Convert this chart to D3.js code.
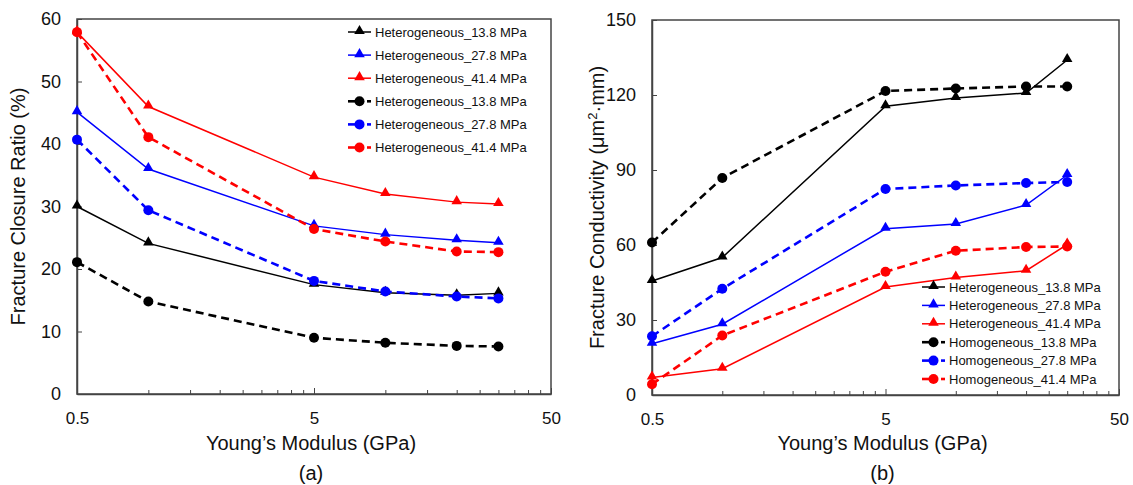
<!DOCTYPE html>
<html><head><meta charset="utf-8">
<script src="https://cdn.jsdelivr.net/npm/d3@7"></script>
<style>body{margin:0;background:#fff}svg{display:block;font-family:"Liberation Sans",Arial,Helvetica,sans-serif}</style>
</head><body><svg id="c" width="1133" height="485"></svg>
<script>
const modulus = [0.5, 1, 5, 10, 20, 30];
const xTickLabels = [0.5, 5, 50];
const xMinorTicks = [1, 1.5, 2, 2.5, 3, 3.5, 4, 4.5, 10, 15, 20, 25, 30, 35, 40, 45];

// Panel (a) Fracture closure ratio (%)
const closureHet138 = [30.0, 24.1, 17.5, 16.2, 15.8, 16.1];
const closureHet278 = [45.1, 36.0, 26.9, 25.5, 24.6, 24.2];
const closureHet414 = [57.9, 46.0, 34.7, 32.0, 30.7, 30.4];
const closureHom138 = [21.1, 14.8, 9.0, 8.2, 7.7, 7.6];
const closureHom278 = [40.7, 29.4, 18.1, 16.4, 15.6, 15.3];
const closureHom414 = [57.9, 41.1, 26.4, 24.4, 22.8, 22.7];
const closureTicks = [0, 10, 20, 30, 40, 50, 60];
const closureLegend = ["Heterogeneous_13.8 MPa","Heterogeneous_27.8 MPa","Heterogeneous_41.4 MPa","Heterogeneous_13.8 MPa","Heterogeneous_27.8 MPa","Heterogeneous_41.4 MPa"];

// Panel (b) Fracture conductivity
const condHet138 = [45.6, 55.0, 115.5, 118.8, 120.8, 134.0];
const condHet278 = [20.5, 28.3, 66.5, 68.4, 76.0, 88.0];
const condHet414 = [7.0, 10.5, 43.2, 47.0, 49.7, 60.2];
const condHom138 = [61.0, 86.8, 121.6, 122.6, 123.4, 123.4];
const condHom278 = [23.5, 42.5, 82.4, 83.8, 84.8, 85.2];
const condHom414 = [4.3, 23.8, 49.3, 57.7, 59.2, 59.4];
const condTicks = [0, 30, 60, 90, 120, 150];
const condLegend = ["Heterogeneous_13.8 MPa","Heterogeneous_27.8 MPa","Heterogeneous_41.4 MPa","Homogeneous_13.8 MPa","Homogeneous_27.8 MPa","Homogeneous_41.4 MPa"];

const colors = ["#000000", "#0000ff", "#ff0000"];

const svg = d3.select("#c");

function panel(opt) {
  const g = svg.append("g");
  const x = d3.scaleLog().domain([0.5, 50]).range([opt.left, opt.right]);
  const y = d3.scaleLinear().domain([0, opt.ymax]).range([opt.bottom, opt.top]);

  // frame
  g.append("rect").attr("x", opt.left).attr("y", opt.top)
    .attr("width", opt.right - opt.left).attr("height", opt.bottom - opt.top)
    .attr("fill", "none").attr("stroke", "#444").attr("stroke-width", 1.5);

  // x axis (inward ticks)
  const xa = g.append("g").attr("transform", `translate(0,${opt.bottom})`);
  xa.call(d3.axisBottom(x).tickValues(xMinorTicks).tickSizeInner(-4).tickSizeOuter(0).tickFormat(""));
  xa.select(".domain").remove();
  xa.selectAll("line").attr("stroke", "#444");
  const xb = g.append("g").attr("transform", `translate(0,${opt.bottom})`);
  xb.call(d3.axisBottom(x).tickValues(xTickLabels).tickSizeInner(-6).tickSizeOuter(0).tickPadding(18).tickFormat(d3.format("")));
  xb.select(".domain").attr("stroke", "#444").attr("stroke-width", 1.5);
  xb.selectAll("line").attr("stroke", "#444");
  xb.selectAll("text").attr("font-size", 17).attr("fill", "#111").attr("font-family", "Liberation Sans, Arial, sans-serif");

  // y axis
  const ya = g.append("g").attr("transform", `translate(${opt.left},0)`);
  ya.call(d3.axisLeft(y).tickValues(opt.yticks).tickSizeInner(-5).tickSizeOuter(0).tickPadding(16));
  ya.select(".domain").attr("stroke", "#444").attr("stroke-width", 1.5);
  ya.selectAll("line").attr("stroke", "#444");
  ya.selectAll("text").attr("font-size", 18).attr("fill", "#111").attr("font-family", "Liberation Sans, Arial, sans-serif");

  const line = d3.line().x((d, i) => x(modulus[i])).y(d => y(d));
  const tri = d3.symbol().type(d3.symbolTriangle).size(48);

  opt.series.forEach((s, k) => {
    const c = colors[k % 3];
    const dashed = k >= 3;
    g.append("path").datum(s).attr("d", line).attr("fill", "none").attr("stroke", c)
      .attr("stroke-width", dashed ? 2.6 : 1.5).attr("stroke-dasharray", dashed ? "8,5" : null);
    const m = g.append("g");
    s.forEach((v, i) => {
      if (dashed) m.append("circle").attr("cx", x(modulus[i])).attr("cy", y(v)).attr("r", 5).attr("fill", c);
      else m.append("path").attr("d", tri).attr("transform", `translate(${x(modulus[i])},${y(v) - 1})`).attr("fill", c);
    });
  });

  // legend
  const lg = g.append("g");
  opt.legend.forEach((t, k) => {
    const c = colors[k % 3];
    const dashed = k >= 3;
    const yy = opt.legY + k * opt.legDy;
    if (dashed) {
      lg.append("line").attr("x1", opt.legX0).attr("x2", opt.legX0 + 8).attr("y1", yy).attr("y2", yy).attr("stroke", c).attr("stroke-width", 2.6);
      lg.append("line").attr("x1", opt.legX1 - 4).attr("x2", opt.legX1).attr("y1", yy).attr("y2", yy).attr("stroke", c).attr("stroke-width", 2.6);
      lg.append("circle").attr("cx", (opt.legX0 + opt.legX1) / 2).attr("cy", yy).attr("r", 5).attr("fill", c);
    } else {
      lg.append("line").attr("x1", opt.legX0).attr("x2", opt.legX1).attr("y1", yy).attr("y2", yy).attr("stroke", c).attr("stroke-width", 1.5);
      lg.append("path").attr("d", tri).attr("transform", `translate(${(opt.legX0 + opt.legX1) / 2},${yy - 1})`).attr("fill", c);
    }
    lg.append("text").attr("x", opt.legX1 + 4).attr("y", yy).attr("dy", "0.35em").attr("font-size", 13).attr("fill", "#111").text(t);
  });

  // titles
  g.append("text").attr("x", (opt.left + opt.right) / 2 - 3).attr("y", 450).attr("text-anchor", "middle")
    .attr("font-size", 20).attr("fill", "#111").text("Young\u2019s Modulus (GPa)");
  g.append("text").attr("x", (opt.left + opt.right) / 2 - 3).attr("y", 480).attr("text-anchor", "middle")
    .attr("font-size", 20).attr("fill", "#111").text(opt.tag);
  const yt = g.append("text").attr("transform", `translate(${opt.ytitleX},${(opt.top + opt.bottom) / 2}) rotate(-90)`)
    .attr("text-anchor", "middle").attr("font-size", 20).attr("fill", "#111");
  opt.ytitle(yt);
}

panel({
  left: 77, right: 551, top: 19, bottom: 394, ymax: 60, yticks: closureTicks,
  series: [closureHet138, closureHet278, closureHet414, closureHom138, closureHom278, closureHom414],
  legend: closureLegend, legX0: 348, legX1: 371, legY: 32, legDy: 23.1,
  tag: "(a)", ytitleX: 25,
  ytitle: t => t.text("Fracture Closure Ratio (%)")
});

panel({
  left: 652, right: 1119, top: 20, bottom: 395, ymax: 150, yticks: condTicks,
  series: [condHet138, condHet278, condHet414, condHom138, condHom278, condHom414],
  legend: condLegend, legX0: 922, legX1: 945, legY: 287, legDy: 18.4,
  tag: "(b)", ytitleX: 604,
  ytitle: t => {
    t.append("tspan").text("Fracture Conductivity (\u03bcm");
    t.append("tspan").attr("dy", -7).attr("font-size", 13).text("2");
    t.append("tspan").attr("dy", 7).text("\u00b7mm)");
  }
});
</script></body></html>
